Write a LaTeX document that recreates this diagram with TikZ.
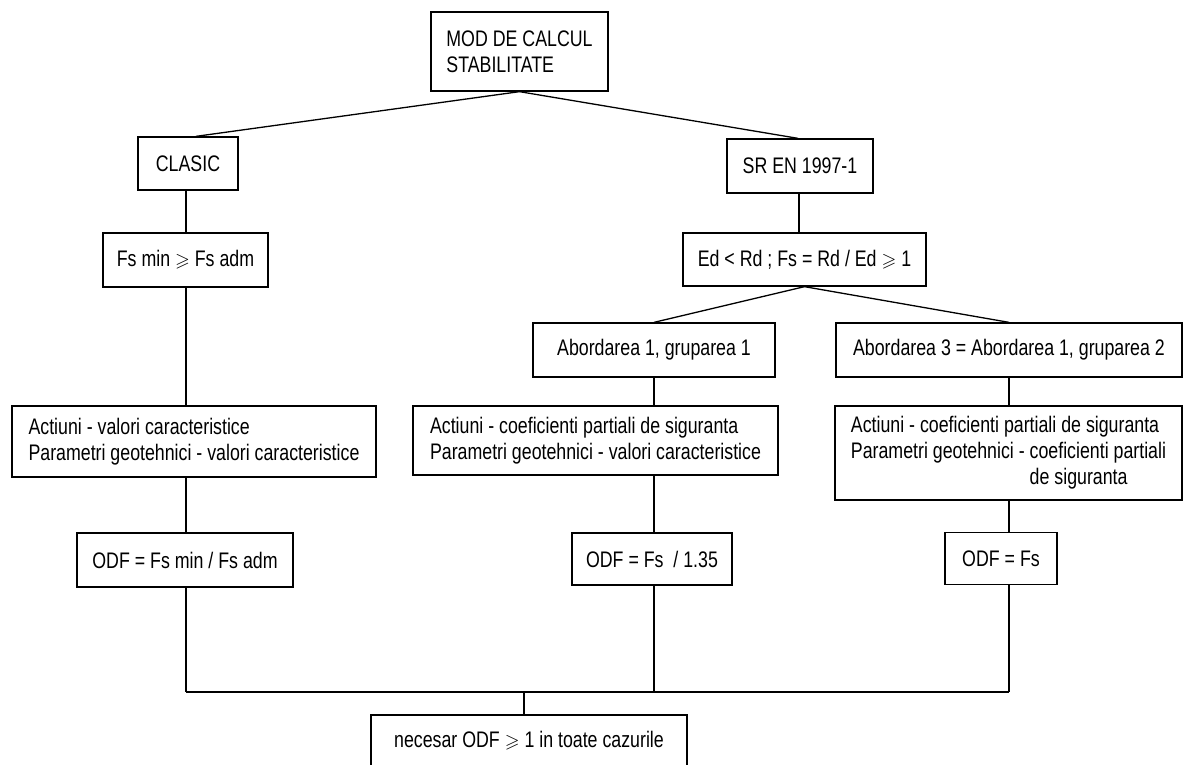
\documentclass[tikz,border=0pt]{standalone}
\usepackage{amssymb}
\usepackage{fontspec}
\setmainfont{Liberation Sans}[FakeStretch=0.79]
\newcommand{\gesl}{{\fontsize{19}{19}\selectfont$\geqslant$}}
\begin{document}
\begin{tikzpicture}[x=1pt,y=-1pt,
  box/.style={draw, line width=1.3pt, inner sep=0pt, align=center,
    font=\fontsize{22.5}{26}\selectfont},
  multibox/.style={box, align=left},
  conn/.style={line width=1.3pt}]
\useasboundingbox (0,0) rectangle (1187,764);
\fill[white] (0,0) rectangle (1187,764);

\node[multibox, minimum width=177pt, minimum height=79pt] (top) at (519.5,51.5) {MOD DE CALCUL\\STABILITATE};
\node[box, minimum width=100pt, minimum height=53pt] (clasic) at (188,163.5) {CLASIC};
\node[box, minimum width=146pt, minimum height=54pt] (sren) at (800,166) {SR EN 1997-1};
\node[box, minimum width=165pt, minimum height=54pt] (fs) at (185.5,260) {Fs min \gesl{} Fs adm};
\node[box, minimum width=243pt, minimum height=53pt] (ed) at (804.5,259.5) {Ed < Rd ; Fs = Rd / Ed \gesl{} 1};
\node[box, minimum width=242pt, minimum height=54pt] (abA) at (654,350) {Abordarea 1, gruparea 1};
\node[box, minimum width=346pt, minimum height=54pt] (abB) at (1009,350) {Abordarea 3 = Abordarea 1, gruparea 2};
\node[multibox, minimum width=364pt, minimum height=71pt] (actL) at (194,441.5) {Actiuni - valori caracteristice\\Parametri geotehnici - valori caracteristice};
\node[multibox, minimum width=365pt, minimum height=69pt] (actM) at (595.5,440.5) {Actiuni - coeficienti partiali de siguranta\\Parametri geotehnici - valori caracteristice};
\node[multibox, minimum width=347pt, minimum height=94pt] (actR) at (1008.5,453) {Actiuni - coeficienti partiali de siguranta\\Parametri geotehnici - coeficienti partiali\\\phantom{Parametri geotehnici - }de siguranta};
\node[box, minimum width=216pt, minimum height=54pt] (odfL) at (185,560) {ODF = Fs min / Fs adm};
\node[box, minimum width=160pt, minimum height=52pt] (odfM) at (652,559) {ODF = Fs\ \ / 1.35};
\node[box, minimum width=112pt, minimum height=52pt] (odfR) at (1001,558.5) {ODF = Fs};
\node[box, minimum width=316pt, minimum height=51pt] (fin) at (529,740.5) {necesar ODF \gesl{} 1 in toate cazurile};

\coordinate (cL) at (186,0);
\coordinate (cM) at (654,0);
\coordinate (cR) at (1009,0);
\coordinate (busL) at (186,692);
\coordinate (busR) at (1009,692);
\coordinate (busS) at (524,692);

\draw[conn] (top.south) -- ([xshift=8pt]clasic.north);
\draw[conn] (top.south) -- ([xshift=-2pt]sren.north);
\draw[conn] (clasic.south -| cL) -- (fs.north -| cL);
\draw[conn] (fs.south -| cL) -- (actL.north -| cL);
\draw[conn] (actL.south -| cL) -- (odfL.north -| cL);
\draw[conn] (odfL.south -| cL) -- (busL);
\draw[conn] ([xshift=-1pt]sren.south) -- ([xshift=-5.5pt]ed.north);
\draw[conn] (ed.south) -- (abA.north);
\draw[conn] (ed.south) -- (abB.north);
\draw[conn] (abA.south -| cM) -- (actM.north -| cM);
\draw[conn] (actM.south -| cM) -- (odfM.north -| cM);
\draw[conn] (odfM.south -| cM) -- (busL -| cM);
\draw[conn] (abB.south -| cR) -- (actR.north -| cR);
\draw[conn] (actR.south -| cR) -- (odfR.north -| cR);
\draw[conn] (odfR.south -| cR) -- (busR);
\draw[conn] (busL) -- (busR);
\draw[conn] (busS) -- (fin.north -| busS);
\end{tikzpicture}
\end{document}
